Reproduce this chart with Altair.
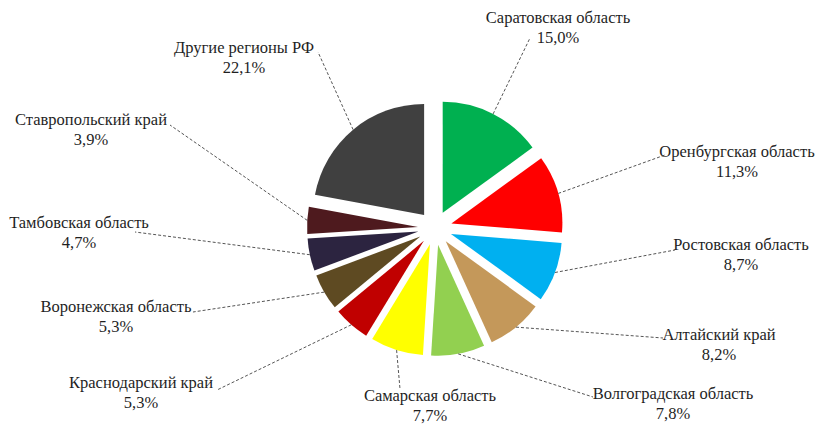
import altair as alt
import pandas as pd

# ---- data ----
regions = ["Саратовская область", "Оренбургская область", "Ростовская область",
           "Алтайский край", "Волгоградская область", "Самарская область",
           "Краснодарский край", "Воронежская область", "Тамбовская область",
           "Ставропольский край", "Другие регионы РФ"]
shares = [15.0, 11.3, 8.7, 8.2, 7.8, 7.7, 5.3, 5.3, 4.7, 3.9, 22.1]
colors = ["#00B050", "#FF0000", "#00B0F0", "#C4985A", "#92D050", "#FFFF00",
          "#C00000", "#5E4A22", "#2C2440", "#4E1A1E", "#404040"]

# ---- layout (plot-area pixel coordinates) ----
W, H = 807, 419
CX, CY = 427, 220
R = 111
EXPLODE = 17
label_x = [550, 729, 733, 711, 665, 422, 133, 108, 71, 83, 236]
label_y = [10, 144, 237, 327, 386, 388, 375, 299, 215, 112, 40]
leader_x = [522, 657, 667, 655, 585, 392, 209, 185, 127, 162, 310]
leader_y = [30, 147, 242, 330, 389, 381, 382, 304, 224, 117, 44]

df = pd.DataFrame({
    "region": regions,
    "share": shares,
    "order": list(range(len(regions))),
    "label": [f"{r}\n{format(s, '.1f').replace('.', ',')}%" for r, s in zip(regions, shares)],
    "tx": label_x,
    "ty": label_y,
    "lx2": leader_x,
    "ly2": leader_y,
})

base = alt.Chart(df).transform_window(
    cum="sum(share)", sort=[alt.SortField("order")], frame=[None, 0]
).transform_calculate(
    start="datum.cum - datum.share"
).transform_calculate(
    mid="(datum.cum - datum.share / 2) / 100 * 2 * PI"
).transform_calculate(
    cx=f"{CX} + {EXPLODE} * sin(datum.mid)",
    cy=f"{CY} - {EXPLODE} * cos(datum.mid)",
).transform_calculate(
    ex=f"datum.cx + {R} * sin(datum.mid)",
    ey=f"datum.cy - {R} * cos(datum.mid)",
)

xs = alt.Scale(domain=[0, W], nice=False, zero=False)
ys = alt.Scale(domain=[0, H], nice=False, zero=False, reverse=True)

arcs = base.mark_arc(radius=R).encode(
    theta=alt.Theta("start:Q", stack=None,
                    scale=alt.Scale(domain=[0, 100], range=[0, 6.283185307])),
    theta2="cum:Q",
    x=alt.X("cx:Q", scale=xs, axis=None),
    y=alt.Y("cy:Q", scale=ys, axis=None),
    color=alt.Color("region:N", scale=alt.Scale(domain=regions, range=colors), legend=None),
)

leaders = base.mark_rule(strokeDash=[3, 2], color="#555555", strokeWidth=1).encode(
    x=alt.X("ex:Q", scale=xs, axis=None),
    y=alt.Y("ey:Q", scale=ys, axis=None),
    x2="lx2:Q",
    y2="ly2:Q",
)

labels = base.mark_text(font="Liberation Serif", fontSize=16.5, lineBreak="\n",
                        lineHeight=20, align="center", baseline="middle",
                        color="#1f1f1f").encode(
    x=alt.X("tx:Q", scale=xs, axis=None),
    y=alt.Y("ty:Q", scale=ys, axis=None),
    text="label:N",
)

chart = alt.layer(arcs, leaders, labels).properties(
    width=W, height=H,
    autosize=alt.AutoSizeParams(type="none"),
    padding=0,
).configure_view(stroke=None)

chart.save("out.html", embed_options={"renderer": "svg", "actions": False})
